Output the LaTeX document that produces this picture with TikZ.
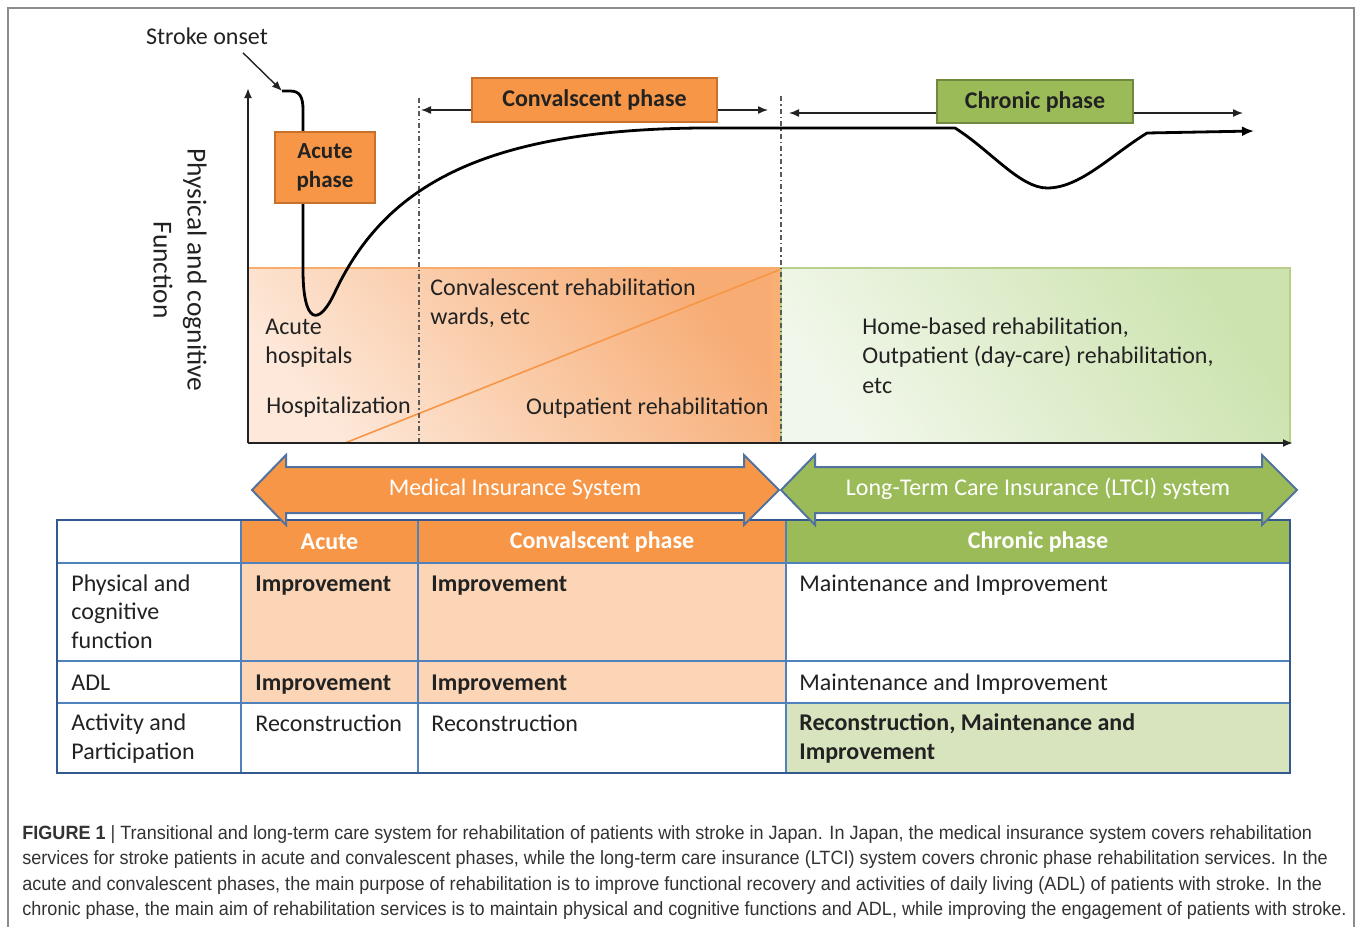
\documentclass[tikz,border=0pt]{standalone}
\usepackage{fontspec}
\setmainfont{Carlito}
\newfontfamily\capfont[FakeStretch=0.94]{Liberation Sans}
\usetikzlibrary{arrows.meta}
\definecolor{oFill}{HTML}{F79646}
\definecolor{oEdge}{HTML}{C8712C}
\definecolor{gFill}{HTML}{9BBB59}
\definecolor{gEdge}{HTML}{71893F}
\definecolor{oLight}{HTML}{FDE8D9}
\definecolor{oDark}{HTML}{F7AC74}
\definecolor{gLight}{HTML}{F1F7EA}
\definecolor{gDark}{HTML}{CCE3AE}
\definecolor{cellO}{HTML}{FBD5B5}
\definecolor{cellG}{HTML}{D7E4BD}
\definecolor{tblue}{HTML}{4F81BD}
\definecolor{tdark}{HTML}{34598F}
\definecolor{ink}{HTML}{222222}
\begin{document}
\begin{tikzpicture}[x=0.5pt,y=-0.5pt,
  txt/.style={font=\fontsize{12}{14.2}\selectfont, inner sep=0pt, align=left, text=ink},
  boldtxt/.style={txt, font=\fontsize{12}{14.2}\selectfont\bfseries},
  hdr/.style={inner sep=0pt, font=\fontsize{12}{14.2}\selectfont\bfseries, text=white},
  obox/.style={draw=oEdge, fill=oFill, line width=0.9pt, inner sep=0pt, align=center, font=\fontsize{11.5}{14.5}\selectfont\bfseries, text=ink},
  gbox/.style={draw=gEdge, fill=gFill, line width=0.9pt, inner sep=0pt, align=center, font=\fontsize{12}{14}\selectfont\bfseries, text=ink},
  axisline/.style={line width=1pt, draw=ink},
  curveline/.style={line width=1.4pt, draw=black, line join=round},
  phasearrow/.style={line width=0.7pt, draw=ink, -{Latex[length=5pt,width=4pt]}},
  dashdotline/.style={line width=0.7pt, draw=black!65, dash pattern=on 2.5pt off 1.5pt on 0.8pt off 1.5pt},
  dblarrow/.style={draw=tdark!85, line width=1pt, line join=miter},
  captxt/.style={inner sep=0pt, anchor=base west, font=\capfont\fontsize{9.6}{11}\selectfont, text=black!80}
]
\useasboundingbox (0,0) rectangle (1358,926);
\fill[white] (0,0) rectangle (1358,926);
\draw[black!45, line width=0.6pt] (8,8) rectangle (1354,945);

% ---------- shaded service regions ----------
\shade[top color=oLight, bottom color=oDark, shading angle=130] (248,268) rectangle (781,443);
\fill[oFill!75] (772,268) rectangle (781,443);
\draw[oFill!80, line width=0.6pt] (248,268) -- (781,268);
\shade[top color=gLight, bottom color=gDark, shading angle=125] (781,268) rectangle (1290,443);
\draw[gFill!70, line width=0.6pt] (781,443) -- (781,268) -- (1290,268) -- (1290,443);
\draw[oFill, line width=0.8pt] (345,443) -- (779,270);

% dash-dot phase separators
\coordinate (sepA) at (419,98);
\coordinate (sepB) at (781,96);
\draw[dashdotline] (sepA) -- (sepA |- 0,443);
\draw[dashdotline] (sepB) -- (sepB |- 0,443);

% ---------- axes ----------
\coordinate (O) at (248,443);
\coordinate (ytip) at (248,88);
\coordinate (xtip) at (1293,443);
\draw[axisline, -{Latex[length=5pt,width=4pt]}] (O) -- (ytip);
\draw[axisline, -{Latex[length=5pt,width=4pt]}] (O) -- (xtip);

% ---------- function curve ----------
\coordinate (c0) at (282,91);
\coordinate (cend) at (1254,131);
\draw[curveline, -{Latex[length=6pt,width=5pt]}] (c0) -- (290,91) .. controls (300,91) and (303,97) .. (303,110)
  -- (303,270) .. controls (303,322) and (318,330) .. (336,290)
  .. controls (385,188) and (480,130) .. (700,128) -- (955,128)
  .. controls (990,150) and (1020,188) .. (1047,188)
  .. controls (1080,188) and (1110,156) .. (1147,133) -- (cend);

% ---------- labels on top ----------
\node[txt] (onset) at (207,36) {Stroke onset};
\draw[line width=0.7pt, draw=ink, -{Latex[length=5pt,width=4pt]}] ([shift={(36,8)}]onset.south) -- (c0);

\node[obox, minimum width=50pt, minimum height=35.5pt] (acute) at (325,167.5) {Acute\\phase};
\node[obox, font=\fontsize{12}{14}\selectfont\bfseries, minimum width=122.5pt, minimum height=22pt] (conv) at (594.5,100) {Convalscent phase};
\node[gbox, minimum width=98pt, minimum height=21.5pt] (chron) at (1035,101.5) {Chronic phase};

\coordinate (convL) at (421,110);
\coordinate (convR) at (768,110);
\coordinate (chronL) at (789,113);
\coordinate (chronR) at (1243,113);
\draw[phasearrow] (conv.west |- convL) -- (convL);
\draw[phasearrow] (conv.east |- convR) -- (convR);
\draw[phasearrow] (chron.west |- chronL) -- (chronL);
\draw[phasearrow] (chron.east |- chronR) -- (chronR);

\node[rotate=-90, align=center, inner sep=0pt, font=\fontsize{13.7}{17}\selectfont, text=ink] (ylab) at (180,270) {Physical and cognitive\\Function};

% ---------- texts in regions (base = baseline of last line) ----------
\node[txt, anchor=base west] (acuteh) at (265,363) {Acute\\hospitals};
\node[txt, anchor=base west] (hosp) at (266,413) {Hospitalization};
\node[txt, anchor=base west] (convw) at (430,324) {Convalescent rehabilitation\\wards, etc};
\node[txt, anchor=base east] (outp) at (769,414) {Outpatient rehabilitation};
\node[txt, anchor=base west, font=\fontsize{12}{14.6}\selectfont] (home) at (862,393) {Home-based rehabilitation,\\Outpatient (day-care) rehabilitation,\\etc};

% ---------- table ----------
\fill[oFill] (241,520) rectangle (786,563);
\fill[gFill] (786,520) rectangle (1290,563);
\fill[cellO] (241,563) rectangle (786,703);
\fill[cellG] (786,703) rectangle (1290,773);
\draw[tblue, line width=0.7pt] (57,563) -- (1290,563) (57,661) -- (1290,661) (57,703) -- (1290,703)
  (241,520) -- (241,773) (418,520) -- (418,773) (786,520) -- (786,773);
\draw[tdark, line width=1.1pt] (57,520) rectangle (1290,773);

\node[hdr] (hA) at (329.5,542) {Acute};
\node[hdr] (hC) at (602,542) {Convalscent phase};
\node[hdr] (hK) at (1038,542) {Chronic phase};

\node[txt, anchor=base west] (r1) at (71,648) {Physical and\\cognitive\\function};
\node[txt, anchor=base west] (r2) at (71,690) {ADL};
\node[txt, anchor=base west] (r3) at (71,759) {Activity and\\Participation};

\node[boldtxt, anchor=base west] (a1) at (255,591) {Improvement};
\node[boldtxt, anchor=base west] (a2) at (255,690) {Improvement};
\node[txt, anchor=base west] (a3) at (255,731) {Reconstruction};
\node[boldtxt, anchor=base west] (b1) at (431,591) {Improvement};
\node[boldtxt, anchor=base west] (b2) at (431,690) {Improvement};
\node[txt, anchor=base west] (b3) at (431,731) {Reconstruction};
\node[txt, anchor=base west] (k1) at (799,591) {Maintenance and Improvement};
\node[txt, anchor=base west] (k2) at (799,690) {Maintenance and Improvement};
\node[boldtxt, anchor=base west] (k3) at (799,759) {Reconstruction, Maintenance and\\Improvement};

% ---------- insurance double arrows ----------
\filldraw[dblarrow, fill=oFill] (252,490) -- (286,455) -- (286,467) -- (744,467) -- (744,455) -- (779,490)
  -- (744,525) -- (744,513) -- (286,513) -- (286,525) -- cycle;
\filldraw[dblarrow, fill=gFill] (781,490) -- (815,455) -- (815,467) -- (1262,467) -- (1262,455) -- (1297,490)
  -- (1262,525) -- (1262,513) -- (815,513) -- (815,525) -- cycle;
\node[inner sep=0pt, font=\fontsize{12}{14}\selectfont, text=white] (mis) at (515,489) {Medical Insurance System};
\node[inner sep=0pt, font=\fontsize{12}{14}\selectfont, text=white] (ltci) at (1038,489) {Long-Term Care Insurance (LTCI) system};

% ---------- caption ----------
\node[captxt] (cap1) at (22,839) {{\bfseries FIGURE 1} | Transitional and long-term care system for rehabilitation of patients with stroke in Japan. In Japan, the medical insurance system covers rehabilitation};
\node[captxt] (cap2) at (22,864) {services for stroke patients in acute and convalescent phases, while the long-term care insurance (LTCI) system covers chronic phase rehabilitation services. In the};
\node[captxt] (cap3) at (22,890) {acute and convalescent phases, the main purpose of rehabilitation is to improve functional recovery and activities of daily living (ADL) of patients with stroke. In the};
\node[captxt] (cap4) at (22,915) {chronic phase, the main aim of rehabilitation services is to maintain physical and cognitive functions and ADL, while improving the engagement of patients with stroke.};
\end{tikzpicture}
\end{document}
